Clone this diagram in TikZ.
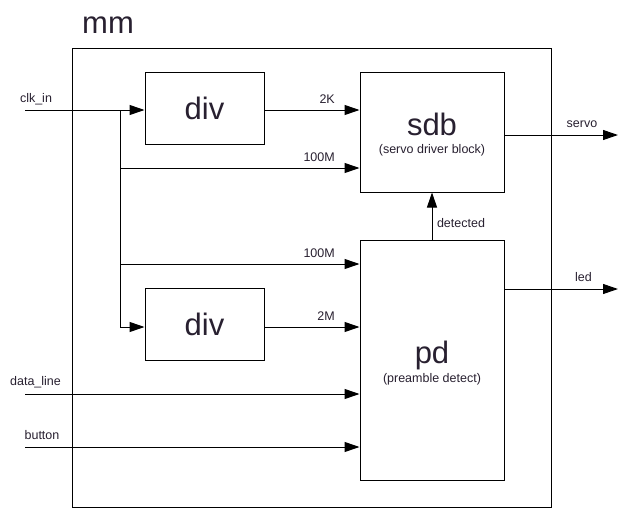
\documentclass[tikz,border=0pt]{standalone}
\usepackage{fontspec}
\setmainfont{Liberation Sans}
\usetikzlibrary{arrows.meta}
\definecolor{txt}{RGB}{40,32,48}
\begin{document}
\begin{tikzpicture}[x=1pt,y=-1pt,
  blk/.style={draw,line width=1pt,rectangle,inner sep=0pt,fill=white},
  wire/.style={line width=1pt},
  arr/.style={wire,-{Triangle[length=15pt,width=10pt]}},
  big/.style={font=\fontsize{31}{31}\selectfont,text=txt,anchor=base,inner sep=0pt},
  lbl/.style={font=\fontsize{12.5}{13}\selectfont,text=txt,anchor=base,inner sep=0pt},
  rlbl/.style={lbl,anchor=base east}]
\useasboundingbox[fill=white] (0,0) rectangle (638,509);
% outer box
\node[blk,minimum width=479pt,minimum height=459pt] (mm) at (311.5,277.5) {};
\node[big] (mmt) at (108,33) {mm};
% blocks
\node[blk,minimum width=119pt,minimum height=72pt] (div1) at (204.5,108) {};
\node[blk,minimum width=119pt,minimum height=72pt] (div2) at (204.5,324) {};
\node[blk,minimum width=144pt,minimum height=120pt] (sdb) at (432,132) {};
\node[blk,minimum width=144pt,minimum height=240pt] (pd) at (432,360.5) {};
\node[big] (div1t) at (204.5,119) {div};
\node[big] (div2t) at (204.5,335) {div};
\node[big] (sdbt) at (432,135) {sdb};
\node[lbl] (sdbs) at (432,153.5) {(servo driver block)};
\node[big] (pdt) at (432,363) {pd};
\node[lbl] (pds) at (432,382.5) {(preamble detect)};
% coordinates
\coordinate (clkin) at (25,110);
\coordinate (br) at (120,110);
\coordinate (b1) at (120,168);
\coordinate (b2) at (120,264);
\coordinate (b3) at (120,327);
\coordinate (dl) at (25,394);
\coordinate (bt) at (25,447);
\coordinate (so) at (618,135);
\coordinate (lo) at (618,289);
% wires
\draw[arr] (clkin) -- (clkin -| div1.west);
\draw[wire] (br) -- (b3);
\draw[arr] (b3) -- (b3 -| div2.west);
\draw[arr] (b1) -- (b1 -| sdb.west);
\draw[arr] (b2) -- (b2 -| pd.west);
\draw[arr] (clkin -| div1.east) -- (clkin -| sdb.west);
\draw[arr] (b3 -| div2.east) -- (b3 -| pd.west);
\draw[arr] (dl) -- (dl -| pd.west);
\draw[arr] (bt) -- (bt -| pd.west);
\draw[arr] (pd.north) -- (sdb.south);
\draw[arr] (so -| sdb.east) -- (so);
\draw[arr] (lo -| pd.east) -- (lo);
% labels
\node[lbl] (lclk) at (36,102.5) {clk\_in};
\node[lbl] (ldl) at (35.5,385.5) {data\_line};
\node[lbl] (lbt) at (42,439) {button};
\node[rlbl] (l2k) at (335,103) {2K};
\node[rlbl] (l100a) at (335,161) {100M};
\node[rlbl] (l100b) at (335,257) {100M};
\node[rlbl] (l2m) at (335,320) {2M};
\node[lbl] (ldet) at (461,227.5) {detected};
\node[lbl] (lservo) at (582,127) {servo};
\node[lbl] (lled) at (583.5,281) {led};
\end{tikzpicture}
\end{document}
